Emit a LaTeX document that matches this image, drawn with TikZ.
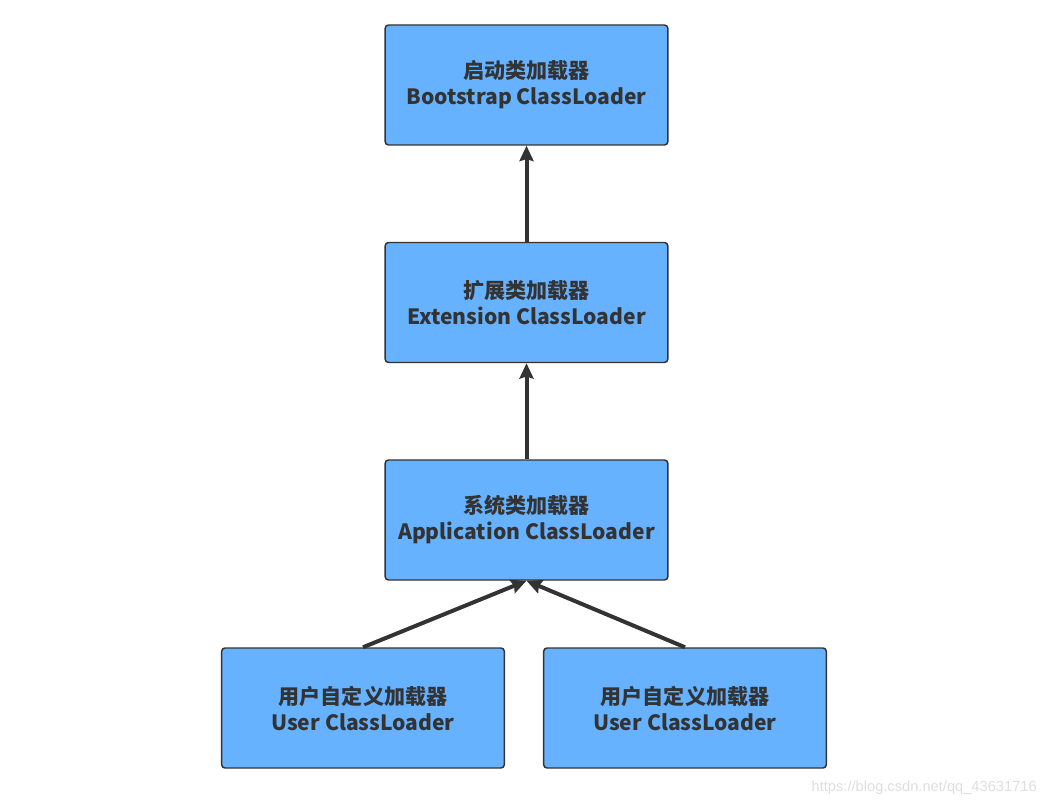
\documentclass[tikz,border=0pt]{standalone}
\usepackage{fontspec}
\setmainfont{Noto Sans CJK SC}
\usetikzlibrary{arrows.meta}
\definecolor{loaderblue}{RGB}{102,178,255}
\definecolor{darkline}{RGB}{51,51,51}
\definecolor{markgray}{RGB}{222,222,222}
\tikzset{
  loader/.style={draw=darkline, line width=1.1pt, fill=loaderblue, rounded corners=2.5pt,
    minimum width=212pt, minimum height=90pt, align=center, text=darkline,
    font=\fontsize{15.8}{19.5}\selectfont\bfseries, inner sep=0pt},
  parent/.style={-{Stealth[length=11.5pt,width=10.5pt,inset=1.5pt]}, draw=darkline, line width=3pt},
}
\begin{document}
\begin{tikzpicture}[x=0.75pt,y=0.75pt,yscale=-1,xscale=1]
\useasboundingbox (0,0) rectangle (1046,806);

% Loaders
\node [loader] (boot) at (526.5,85) {启动类加载器\\Bootstrap ClassLoader};
\node [loader] (ext) at (526.5,302.5) {扩展类加载器\\Extension ClassLoader};
\node [loader] (app) at (526.5,520) {系统类加载器\\Application ClassLoader};
\node [loader] (userA) at (363,708) {用户自定义加载器\\User ClassLoader};
\node [loader] (userB) at (685,708) {用户自定义加载器\\User ClassLoader};

% Delegation
\draw [parent] (ext.north) -- (boot.south);
\draw [parent] (app.north) -- (ext.south);
\draw [parent] (userA.north) -- (app.south);
\draw [parent] (userB.north) -- (app.south);

% Watermark
\node [anchor=east, text=markgray, font=\fontspec{Liberation Sans}\fontsize{11}{13}\selectfont, inner sep=0pt] (mark) at (1037,788) {https://blog.csdn.net/qq\_43631716};

\end{tikzpicture}
\end{document}
